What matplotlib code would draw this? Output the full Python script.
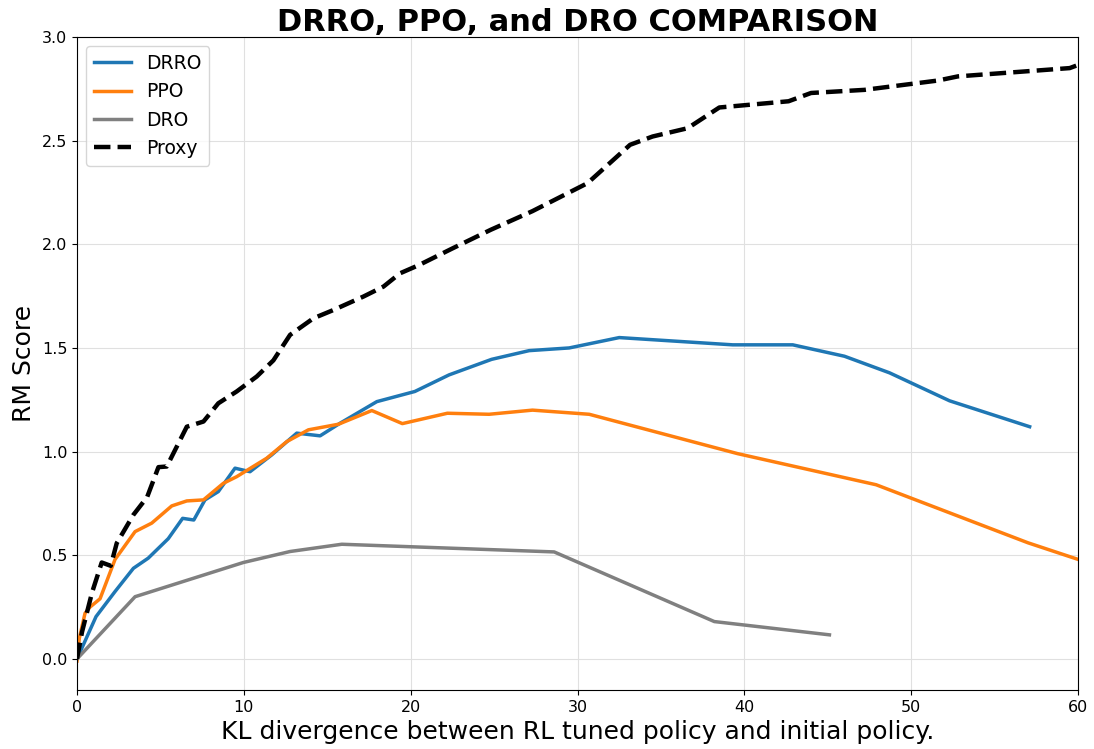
import matplotlib
matplotlib.use("Agg")
import matplotlib.pyplot as plt

drro_x = [0.0, 1.14, 2.28, 3.38, 4.27, 5.47, 6.33, 7.0, 7.67, 8.47, 9.47, 10.37, 11.67, 13.17, 14.57, 15.77, 17.97,
          20.25, 22.3, 24.85, 27.1, 29.5, 32.5, 39.3, 42.9, 46.0, 48.7, 52.3, 57.1]
drro_y = [0.0, 0.204, 0.325, 0.437, 0.486, 0.58, 0.678, 0.67, 0.767, 0.807, 0.92, 0.903, 0.984, 1.089, 1.076, 1.137, 1.241,
          1.29, 1.37, 1.445, 1.487, 1.50, 1.55, 1.515, 1.515, 1.46, 1.38, 1.245, 1.12]

ppo_x = [0.0, 0.14, 0.48, 0.78, 1.38, 2.28, 3.48, 4.48, 5.68, 6.58, 7.58, 8.77, 9.57, 11.37, 12.57, 13.87, 15.67, 17.67,
         19.5, 22.2, 24.7, 27.3, 30.7, 39.6, 47.9, 57.0, 60.0]
ppo_y = [-0.01, 0.10, 0.22, 0.25, 0.29, 0.48, 0.614, 0.655, 0.738, 0.762, 0.767, 0.847, 0.879, 0.968, 1.048, 1.105, 1.132, 1.198,
         1.135, 1.185, 1.18, 1.20, 1.18, 0.99, 0.84, 0.56, 0.48]

dro_x = [0.0, 3.48, 9.97, 12.77, 15.87, 28.6, 38.2, 45.1]
dro_y = [0.0, 0.30, 0.465, 0.518, 0.553, 0.516, 0.18, 0.116]

proxy_x = [0.0, 0.3, 0.9, 1.48, 2.02, 2.38, 3.38, 4.2, 4.88, 5.38, 6.58, 7.58, 8.47, 9.57, 10.77, 11.77, 12.77, 14.17,
           15.37, 17.17, 18.37, 19.36, 20.5, 22.5, 24.8, 27.3, 29.5, 30.6, 33.15, 34.5, 36.6, 38.5, 42.65, 44.0, 47.2,
           51.6, 52.8, 59.5, 60.0]
proxy_y = [0.0, 0.13, 0.32, 0.465, 0.449, 0.558, 0.695, 0.78, 0.925, 0.928, 1.12, 1.145, 1.233, 1.29, 1.362, 1.44, 1.563, 1.643,
           1.683, 1.748, 1.796, 1.86, 1.90, 1.98, 2.07, 2.16, 2.25, 2.295, 2.48, 2.52, 2.56, 2.66, 2.69, 2.73, 2.745,
           2.79, 2.81, 2.85, 2.865]

fig = plt.figure(figsize=(10.94, 7.49), dpi=100)
ax = fig.add_axes([0.0704, 0.0788, 0.915, 0.8718])

ax.plot(drro_x, drro_y, color="tab:blue", lw=2.5, label="DRRO")
ax.plot(ppo_x, ppo_y, color="tab:orange", lw=2.5, label="PPO")
ax.plot(dro_x, dro_y, color="gray", lw=2.5, label="DRO")
ax.plot(proxy_x, proxy_y, color="black", lw=3.2, ls="--", label="Proxy")

ax.set_xlim(0, 60)
ax.set_ylim(-0.15, 3.0)
ax.grid(True, color="#e0e0e0", lw=0.8)
ax.tick_params(labelsize=11.5)
ax.set_title("DRRO, PPO, and DRO COMPARISON", fontsize=22, fontweight="bold", pad=4)
ax.set_xlabel("KL divergence between RL tuned policy and initial policy.", fontsize=18)
ax.set_ylabel("RM Score", fontsize=18)
ax.legend(loc="upper left", fontsize=13.5)

fig.savefig("out.png", dpi=100)
